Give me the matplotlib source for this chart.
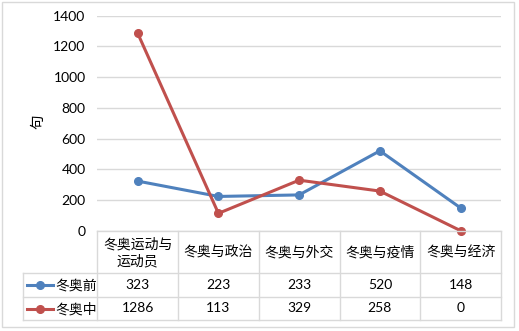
import matplotlib.pyplot as plt
from matplotlib.lines import Line2D
from matplotlib.patches import Rectangle

plt.rcParams['font.family'] = ['Lato', 'Noto Sans CJK SC', 'DejaVu Sans']
plt.rcParams['axes.unicode_minus'] = False

# 数据
categories = ['冬奥运动与\n运动员', '冬奥与政治', '冬奥与外交', '冬奥与疫情', '冬奥与经济']
before = [323, 223, 233, 520, 148]
during = [1286, 113, 329, 258, 0]
series_names = ['冬奥前', '冬奥中']
colors = ['#4F81BD', '#C0504D']

W, H = 519, 331
fig = plt.figure(figsize=(W / 100, H / 100), dpi=100)

def fx(px):
    return px / W

def fy(py):
    return 1 - py / H

# 外框
fig.patches.append(Rectangle((fx(1.5), fy(327)), fx(512.5), 325.5 / H,
                             transform=fig.transFigure, fill=False,
                             edgecolor='#D9D9D9', lw=1))

left, right, top, bottom = 97.3, 501, 15.7, 230.7
ax = fig.add_axes([fx(left), fy(bottom), fx(right - left), (bottom - top) / H])
n = len(categories)
xs = list(range(n))
for vals, c in zip([before, during], colors):
    ax.plot(xs, vals, color=c, lw=2.2, marker='o', ms=5.5, clip_on=False, zorder=3)
ax.set_xlim(-0.5, n - 0.5)
ax.set_ylim(0, 1400)
ax.set_yticks(range(0, 1401, 200))
ax.tick_params(axis='y', length=0, labelsize=10, pad=8.5, colors='black')
ax.set_xticks([])
ax.grid(axis='y', color='#D9D9D9', lw=1)
ax.set_axisbelow(True)
for s in ax.spines.values():
    s.set_visible(False)
fig.text(fx(38), fy(122), '句', rotation=90, fontsize=10.5, ha='center', va='center')

# 数据表
line_kw = dict(color='#D9D9D9', lw=1, transform=fig.transFigure)
col_x = [left + (right - left) * i / n for i in range(n + 1)]
row_y = [230.7, 273.3, 297, 320]
tleft = 22.7
for x in col_x:
    fig.add_artist(Line2D([fx(x), fx(x)], [fy(row_y[0]), fy(row_y[-1])], **line_kw))
fig.add_artist(Line2D([fx(tleft), fx(tleft)], [fy(row_y[1]), fy(row_y[-1])], **line_kw))
fig.add_artist(Line2D([fx(left), fx(right)], [fy(row_y[0]), fy(row_y[0])], **line_kw))
for y in row_y[1:]:
    fig.add_artist(Line2D([fx(tleft), fx(right)], [fy(y), fy(y)], **line_kw))

for i, cat in enumerate(categories):
    cx = (col_x[i] + col_x[i + 1]) / 2
    fig.text(fx(cx), fy((row_y[0] + row_y[1]) / 2), cat, ha='center', va='center',
             fontsize=10, linespacing=1.25)

for r, (name, vals, c) in enumerate(zip(series_names, [before, during], colors)):
    cy = (row_y[r + 1] + row_y[r + 2]) / 2
    fig.add_artist(Line2D([fx(26.5), fx(53)], [fy(cy), fy(cy)], color=c, lw=2.2,
                          marker=None, transform=fig.transFigure))
    fig.add_artist(Line2D([fx(39.7)], [fy(cy)], color=c, marker='o', ms=5.5,
                          transform=fig.transFigure))
    fig.text(fx(55.5), fy(cy), name, ha='left', va='center', fontsize=10)
    for i, v in enumerate(vals):
        cx = (col_x[i] + col_x[i + 1]) / 2
        fig.text(fx(cx), fy(cy), str(v), ha='center', va='center', fontsize=10)

fig.savefig('out.png', dpi=100)
